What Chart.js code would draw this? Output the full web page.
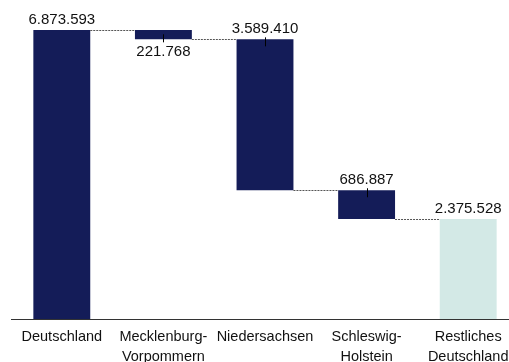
<!DOCTYPE html>
<html>
<head>
<meta charset="utf-8">
<script src="https://cdn.jsdelivr.net/npm/chart.js@4.4.1/dist/chart.umd.min.js"></script>
<style>
  html, body { margin: 0; padding: 0; background: #fff; overflow: hidden; width: 509px; height: 362px; }
  #wrap { position: relative; width: 519px; height: 379px; }
</style>
</head>
<body>
<div id="wrap"><canvas id="chart"></canvas></div>
<script>
// Regions of the waterfall (multi-line where the label wraps)
const categories = [
  'Deutschland',
  ['Mecklenburg-', 'Vorpommern'],
  'Niedersachsen',
  ['Schleswig-', 'Holstein'],
  ['Restliches', 'Deutschland']
];
// Signed values: totals are positive, deductions negative
const values = [6873593, -221768, -3589410, -686887, 2375528];
// Which columns are totals (drawn from zero) and which are steps
const isTotal = [true, false, false, false, true];

const NAVY = '#141c58';
const TEAL = '#d3e9e6';

// Floating ranges for each column
const ranges = [];
let running = 0;
values.forEach((v, i) => {
  if (isTotal[i]) {
    ranges.push([0, v]);
    running = v;
  } else {
    ranges.push([running, running + v]);
    running += v;
  }
});

function fmt(n) {
  return String(Math.abs(n)).replace(/\B(?=(\d{3})+(?!\d))/g, '.');
}

const FONT = "'Liberation Sans', Arial, Helvetica, sans-serif";

const waterfallDecor = {
  id: 'waterfallDecor',
  afterDatasetsDraw(chart) {
    const ctx = chart.ctx;
    const meta = chart.getDatasetMeta(0);
    const y = chart.scales.y;
    ctx.save();
    // dotted connectors between neighbouring columns
    ctx.strokeStyle = '#555';
    ctx.lineWidth = 1;
    ctx.setLineDash([2, 1]);
    for (let i = 0; i < meta.data.length - 1; i++) {
      const a = meta.data[i], b = meta.data[i + 1];
      const level = ranges[i][1];
      const py = Math.round(y.getPixelForValue(level)) + 0.5;
      ctx.beginPath();
      ctx.moveTo(a.x + a.width / 2, py);
      ctx.lineTo(b.x - b.width / 2, py);
      ctx.stroke();
    }
    ctx.setLineDash([]);
    // value labels and small markers
    ctx.font = '15px ' + FONT;
    ctx.fillStyle = '#111';
    ctx.textAlign = 'center';
    meta.data.forEach((bar, i) => {
      const top = Math.min(bar.y, bar.base);
      const bottom = Math.max(bar.y, bar.base);
      const small = bottom - top < 15;
      const cx = Math.round(bar.x) + 0.5;
      if (small) {
        ctx.textBaseline = 'top';
        ctx.fillText(fmt(values[i]), bar.x, bottom + 5);
      } else {
        ctx.textBaseline = 'alphabetic';
        ctx.fillText(fmt(values[i]), bar.x, top - 6);
      }
      if (!isTotal[i]) {
        ctx.strokeStyle = '#000';
        ctx.lineWidth = 1;
        ctx.beginPath();
        if (small) {
          ctx.moveTo(cx, bottom - 5);
          ctx.lineTo(cx, bottom + 3);
        } else {
          ctx.moveTo(cx, top - 2);
          ctx.lineTo(cx, top + 7);
        }
        ctx.stroke();
      }
    });
    ctx.restore();
  }
};

new Chart(document.getElementById('chart'), {
  type: 'bar',
  data: {
    labels: categories,
    datasets: [{
      data: ranges,
      backgroundColor: values.map((v, i) => (i === values.length - 1 ? TEAL : NAVY)),
      borderWidth: 0,
      barPercentage: 0.56,
      categoryPercentage: 1.0
    }]
  },
  options: {
    responsive: true,
    maintainAspectRatio: false,
    animation: false,
    layout: { padding: { left: 11, right: 0, top: 5, bottom: 0 } },
    plugins: {
      legend: { display: false },
      tooltip: { enabled: false }
    },
    scales: {
      x: {
        afterFit: (scale) => { scale.height = 60; },
        grid: { display: false, drawTicks: false },
        border: { display: true, color: '#333', width: 1 },
        ticks: {
          color: '#111',
          font: { family: FONT, size: 14.5, lineHeight: 1.38 },
          padding: 8,
          maxRotation: 0,
          minRotation: 0,
          autoSkip: false
        }
      },
      y: {
        display: false,
        min: 0,
        max: 7468000
      }
    }
  },
  plugins: [waterfallDecor]
});
</script>
</body>
</html>
